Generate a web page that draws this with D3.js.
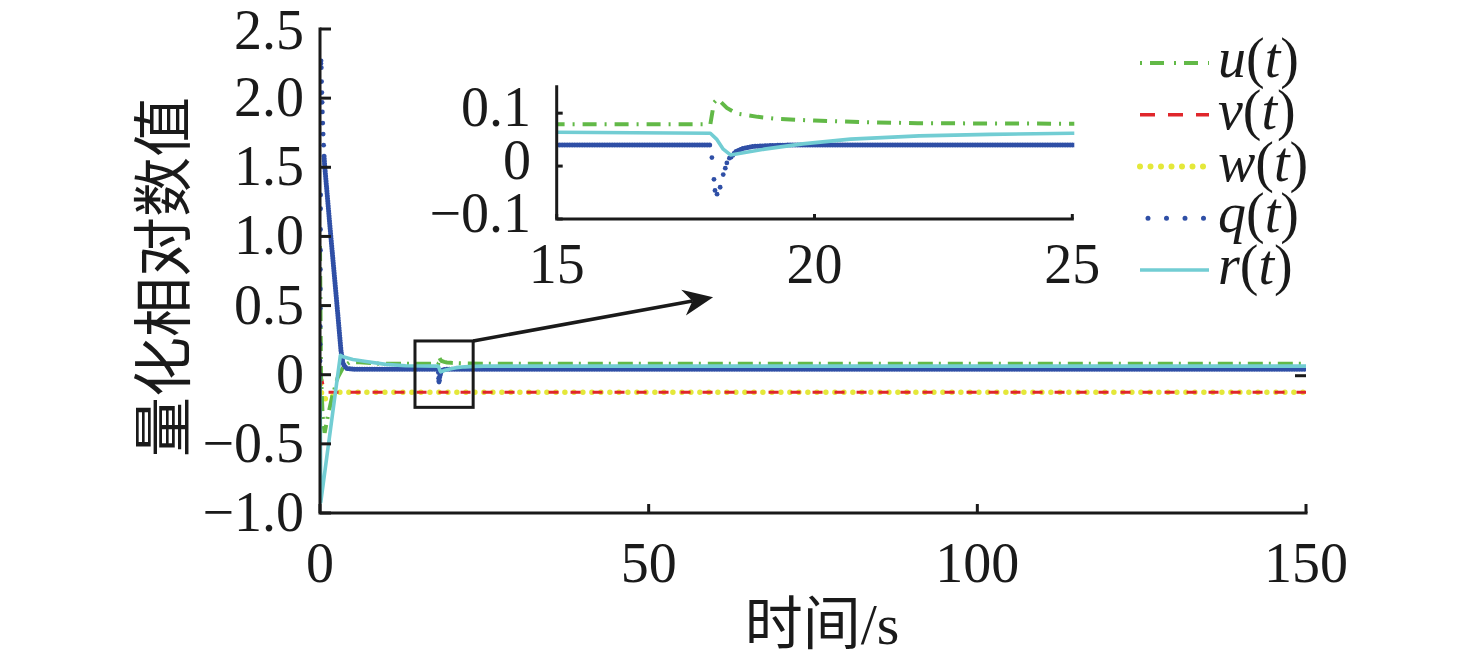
<!DOCTYPE html>
<html><head><meta charset="utf-8">
<script src="https://cdn.jsdelivr.net/npm/d3@7"></script>
<style>
body{margin:0;background:#fff;} svg{display:block;}
.cjk{font-family:"Noto Sans CJK SC","Noto Sans CJK JP",sans-serif;}
</style>
</head><body>
<svg id="chart" width="1476" height="660"></svg>
<script>
// ---------------- data ----------------
const xTicks = [0, 50, 100, 150];
const xTickLabels = ["0", "50", "100", "150"];
const yTicks = [-1.0, -0.5, 0, 0.5, 1.0, 1.5, 2.0, 2.5];
const yTickLabels = ["\u22121.0", "\u22120.5", "0", "0.5", "1.0", "1.5", "2.0", "2.5"];
const insetXTicks = [15, 20, 25];
const insetXTickLabels = ["15", "20", "25"];
const insetYTicks = [-0.1, 0, 0.1];
const insetYTickLabels = ["\u22120.1", "0", "0.1"];
const seriesNames = ["u", "v", "w", "q", "r"];
const xTitle = "时间";
const xTitleUnit = "/s";
const yTitle = "量化相对数值";

// u(t)
const uT = [0, 0.15, 0.4, 0.7, 1.2, 1.8, 2.7, 3.6, 4.5, 6, 9, 15, 17.98, 18.05, 18.12, 18.3, 18.5, 18.9, 19.3, 20, 21, 22, 25, 150];
const uV = [0.93, 0.0, -0.3, -0.42, -0.3, -0.17, -0.02, 0.06, 0.09, 0.09, 0.08, 0.079, 0.079, 0.12, 0.127, 0.11, 0.099, 0.093, 0.089, 0.086, 0.083, 0.081, 0.080, 0.079];
// v(t)
const vT = [0, 0.3, 0.7, 150];
const vV = [0, -0.04, -0.126, -0.126];
// w(t)
const wT = [0, 0.3, 1.5, 2.5, 150];
const wV = [0, -0.17, -0.18, -0.126, -0.126];
// q(t): continuous part (null = gap) and isolated samples
const qT = [0.62, 0.7, 1.5, 2.5, 3.2, 3.5, 4, 5, 17.98, 18.2, 18.38, 18.47, 18.6, 18.8, 19.2, 19.6, 150];
const qV = [1.58, 1.52, 1.08, 0.55, 0.17, 0.08, 0.045, 0.04, 0.04, null, 0.017, 0.027, 0.033, 0.037, 0.039, 0.04, 0.04];
const qDotT = [0, 0.01, 0.02, 0.03, 0.04, 0.05, 0.06, 0.07, 0.08, 0.09, 0.10, 0.14, 0.16, 0.20, 0.24, 0.28, 0.32, 0.36, 0.42, 0.48, 0.55,
               18.01, 18.05, 18.07, 18.11, 18.17, 18.23, 18.27, 18.30, 18.35];
const qDotV = [0, 0.10, 0.22, 0.35, 0.48, 0.62, 0.76, 0.90, 1.05, 1.20, 1.30, 2.25, 2.27, 2.22, 2.12, 2.04, 1.97, 1.90, 1.82, 1.74, 1.66,
               0.016, -0.025, -0.046, -0.053, -0.040, -0.016, -0.004, 0.006, 0.015];
// r(t)
const rT = [0, 0.12, 3.1, 3.5, 5, 7, 10, 13, 17.98, 18.1, 18.23, 18.37, 19.03, 19.77, 20.7, 22.03, 23.4, 25, 150];
const rV = [0, -0.92, 0.14, 0.13, 0.11, 0.095, 0.075, 0.065, 0.062, 0.051, 0.032, 0.021, 0.032, 0.042, 0.051, 0.057, 0.060, 0.062, 0.062];
// zoom box (main data coords) and arrow
const boxT = [14.45, 23.3];
const boxV = [-0.236, 0.244];
const arrowT = [23.3, 59.8];
const arrowV = [0.244, 0.56];

// ---------------- font detection ----------------
function hasFont(name) {
  const c = document.createElement("canvas").getContext("2d");
  const s = "mmmmmmmmmmlli10.5WQ";
  const res = ["monospace", "sans-serif"].map(base => {
    c.font = `72px ${base}`; const w0 = c.measureText(s).width;
    c.font = `72px "${name}", ${base}`; const w1 = c.measureText(s).width;
    return w0 !== w1;
  });
  return res[0] || res[1];
}
const serifCandidates = ["Liberation Serif", "Times New Roman", "Tinos", "DejaVu Serif", "Noto Serif"];
const serifFound = serifCandidates.find(hasFont);
const LATIN = serifFound ? `"${serifFound}"` : `"Liberation Sans", Arimo, sans-serif`;
const FS = serifFound ? 56 : 51;

// ---------------- styles ----------------
const COL = {u: "#62b947", v: "#e0262b", w: "#e4e83a", q: "#2f4fa6", r: "#72cdd3"};

const svg = d3.select("#chart");
const zip = (T, V) => T.map((t, i) => ({t: t, v: V[i]}));

// ---------------- main plot ----------------
const x = d3.scaleLinear().domain([0, 150]).range([320, 1306]);
const y = d3.scaleLinear().domain([-1, 2.5]).range([513, 29]);

svg.append("clipPath").attr("id", "clipMain").append("rect")
  .attr("x", x(0)).attr("y", y(2.5)).attr("width", x(150) - x(0)).attr("height", y(-1) - y(2.5));
svg.append("clipPath").attr("id", "clipInset").append("rect");

function drawSeries(g, xs, ys, dashMain) {
  const line = d3.line().defined(d => d.v !== null).x(d => xs(d.t)).y(d => ys(d.v));
  g.append("path").datum(zip(wT, wV)).attr("d", line).attr("fill", "none")
    .attr("stroke", COL.w).attr("stroke-width", 5.5).attr("stroke-linecap", "round")
    .attr("stroke-dasharray", "0 9");
  g.append("path").datum(zip(vT, vV)).attr("d", line).attr("fill", "none")
    .attr("stroke", COL.v).attr("stroke-width", 3).attr("stroke-dasharray", "10 12");
  g.append("path").datum(zip(uT, uV)).attr("d", line).attr("fill", "none")
    .attr("stroke", COL.u).attr("stroke-width", 4).attr("stroke-dasharray", dashMain);
  g.append("path").datum(zip(qT, qV)).attr("d", line).attr("fill", "none")
    .attr("stroke", COL.q).attr("stroke-width", 5).attr("stroke-linecap", "round")
    .attr("stroke-dasharray", "0 2.5");
  g.selectAll("circle.qd").data(zip(qDotT, qDotV)).enter().append("circle")
    .attr("class", "qd").attr("cx", d => xs(d.t)).attr("cy", d => ys(d.v)).attr("r", 2.4)
    .attr("fill", COL.q);
  g.append("path").datum(zip(rT, rV)).attr("d", line).attr("fill", "none")
    .attr("stroke", COL.r).attr("stroke-width", 3.6).attr("stroke-linejoin", "round");
}

const gMain = svg.append("g").attr("clip-path", "url(#clipMain)");
drawSeries(gMain, x, y, "15 6 2 7");

// main axes
const axG = svg.append("g").attr("stroke", "#1a1a1a").attr("fill", "none").attr("stroke-width", 3);
axG.append("path").attr("d", `M${x(0)},${y(2.5)} V${y(-1)} H${x(150)}`).attr("stroke-linecap", "square");
yTicks.forEach(v => axG.append("line").attr("x1", x(0)).attr("x2", x(0) + 11).attr("y1", y(v)).attr("y2", y(v)));
xTicks.forEach(t => axG.append("line").attr("x1", x(t)).attr("x2", x(t)).attr("y1", y(-1)).attr("y2", y(-1) - 9));
axG.append("line").attr("x1", x(150)).attr("x2", x(150) - 11).attr("y1", y(0) + 1).attr("y2", y(0) + 1);

const txt = svg.append("g").style("font-family", LATIN).attr("font-size", FS).attr("fill", "#1a1a1a");
yTicks.forEach((v, i) => txt.append("text").attr("x", 304).attr("y", y(v) + (v === 2.5 ? 20 : 18))
  .attr("text-anchor", "end").text(yTickLabels[i]));
xTicks.forEach((t, i) => txt.append("text").attr("x", x(t)).attr("y", 582)
  .attr("text-anchor", "middle").text(xTickLabels[i]));

// axis titles
const xt = svg.append("text").attr("x", 822).attr("y", 644).attr("text-anchor", "middle")
  .attr("font-size", 58).attr("fill", "#1a1a1a");
xt.append("tspan").attr("class", "cjk").text(xTitle);
xt.append("tspan").style("font-family", LATIN).text(xTitleUnit);
svg.append("text").attr("class", "cjk").attr("transform", "translate(185,277) rotate(-90)").attr("text-anchor", "middle")
  .attr("font-size", 60).attr("fill", "#1a1a1a").text(yTitle);

// zoom box + arrow
svg.append("rect").attr("x", x(boxT[0])).attr("y", y(boxV[1]))
  .attr("width", x(boxT[1]) - x(boxT[0])).attr("height", y(boxV[0]) - y(boxV[1]))
  .attr("fill", "none").attr("stroke", "#1a1a1a").attr("stroke-width", 3);
{
  const x0 = x(arrowT[0]), y0 = y(arrowV[0]), x1 = x(arrowT[1]), y1 = y(arrowV[1]);
  const len = Math.hypot(x1 - x0, y1 - y0), dx = (x1 - x0) / len, dy = (y1 - y0) / len;
  const nx = -dy, ny = dx, L = 30, W = 13, N = 21;
  svg.append("line").attr("x1", x0).attr("y1", y0).attr("x2", x1 - dx * N).attr("y2", y1 - dy * N)
    .attr("stroke", "#1a1a1a").attr("stroke-width", 3.5);
  svg.append("path").attr("d",
    `M${x1},${y1} L${x1 - dx * L + nx * W},${y1 - dy * L + ny * W} L${x1 - dx * N},${y1 - dy * N} L${x1 - dx * L - nx * W},${y1 - dy * L - ny * W} Z`)
    .attr("fill", "#1a1a1a");
}

// ---------------- inset ----------------
const xi = d3.scaleLinear().domain([15, 25]).range([556.7, 1072.3]);
const yi = d3.scaleLinear().domain([-0.1, 0.15]).range([219, 86.7]);
svg.select("#clipInset rect").attr("x", xi(15)).attr("y", yi(0.15))
  .attr("width", xi(25) - xi(15) + 2).attr("height", yi(-0.1) - yi(0.15));
svg.append("rect").attr("x", xi(15)).attr("y", yi(0.15)).attr("width", xi(25) - xi(15))
  .attr("height", yi(-0.1) - yi(0.15)).attr("fill", "#fff");
const gIn = svg.append("g").attr("clip-path", "url(#clipInset)");
drawSeries(gIn, xi, yi, "14 8 2 8");

const axI = svg.append("g").attr("stroke", "#1a1a1a").attr("fill", "none").attr("stroke-width", 3);
axI.append("path").attr("d", `M${xi(15)},${yi(0.15)} V${yi(-0.1)} H${xi(25)}`).attr("stroke-linecap", "square");
insetYTicks.forEach(v => axI.append("line").attr("x1", xi(15)).attr("x2", xi(15) + 6).attr("y1", yi(v)).attr("y2", yi(v)));
insetXTicks.forEach(t => axI.append("line").attr("x1", xi(t)).attr("x2", xi(t)).attr("y1", yi(-0.1)).attr("y2", yi(-0.1) - 5));
insetYTicks.forEach((v, i) => txt.append("text").attr("x", 531).attr("y", yi(v) + 13)
  .attr("text-anchor", "end").text(insetYTickLabels[i]));
insetXTicks.forEach((t, i) => txt.append("text").attr("x", xi(t)).attr("y", 283)
  .attr("text-anchor", "middle").text(insetXTickLabels[i]));

// ---------------- legend ----------------
const legY = d3.scalePoint().domain(seriesNames).range([63, 270]);
const legStyle = {
  u: {w: 4, dash: "2 8 14 10", cap: "butt", x0: 1140},
  v: {w: 3.5, dash: "15 13", cap: "butt", x0: 1140},
  w: {w: 6, dash: "0 10.5", cap: "round", x0: 1140},
  q: {w: 5, dash: "0 18.5", cap: "round", x0: 1148},
  r: {w: 3.6, dash: null, cap: "butt", x0: 1140}
};
seriesNames.forEach(s => {
  const yy = legY(s), st = legStyle[s];
  svg.append("line").attr("x1", st.x0).attr("x2", 1209).attr("y1", yy).attr("y2", yy)
    .attr("stroke", COL[s]).attr("stroke-width", st.w).attr("stroke-linecap", st.cap)
    .attr("stroke-dasharray", st.dash);
  const t = svg.append("text").attr("x", 1218).attr("y", yy + 14)
    .style("font-family", LATIN).attr("font-size", FS).attr("fill", "#1a1a1a");
  t.append("tspan").attr("font-style", "italic").text(s);
  t.append("tspan").text("(");
  t.append("tspan").attr("font-style", "italic").text("t");
  t.append("tspan").text(")");
});
</script>
</body></html>
